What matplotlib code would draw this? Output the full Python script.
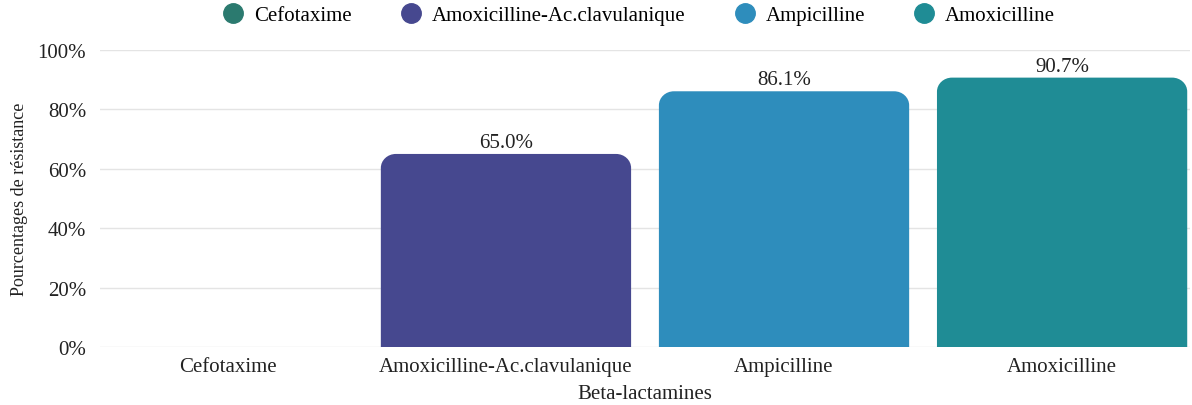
"""Resistance to beta-lactams, bar chart"""
import matplotlib
matplotlib.use("Agg")
import matplotlib.pyplot as plt
from matplotlib.path import Path
from matplotlib.patches import PathPatch
from matplotlib.lines import Line2D

# -----------------------------------------------------------------------------
# Data

categories = ["Cefotaxime", "Amoxicilline-Ac.clavulanique", "Ampicilline", "Amoxicilline"]
resistance = [0.0, 65.0, 86.1, 90.7]
colors = ["#2b7a6f", "#46488f", "#2e8dbc", "#1f8c95"]
yticks = [0, 20, 40, 60, 80, 100]

FS = 15
plt.rcParams["font.family"] = ["Liberation Serif", "DejaVu Serif"]
plt.rcParams["font.size"] = FS


def rounded_top(x0, y0, w, h, rx, ry):
    """Path of a bar whose two top corners are rounded."""
    if h <= 0:
        return None
    ry = min(ry, h)
    k = 0.5523
    verts = [
        (x0, y0),
        (x0 + w, y0),
        (x0 + w, y0 + h - ry),
        (x0 + w, y0 + h - ry + k * ry), (x0 + w - rx + k * rx, y0 + h), (x0 + w - rx, y0 + h),
        (x0 + rx, y0 + h),
        (x0 + rx - k * rx, y0 + h), (x0, y0 + h - ry + k * ry), (x0, y0 + h - ry),
        (x0, y0),
    ]
    codes = [Path.MOVETO, Path.LINETO, Path.LINETO,
             Path.CURVE4, Path.CURVE4, Path.CURVE4,
             Path.LINETO,
             Path.CURVE4, Path.CURVE4, Path.CURVE4,
             Path.CLOSEPOLY]
    return Path(verts, codes)


fig = plt.figure(figsize=(11.92, 4.06), dpi=100)
ax = fig.add_axes([100 / 1192, 1 - 348 / 406, 1090 / 1192, 297 / 406])

x = list(range(len(categories)))
bars = ax.bar(x, resistance, width=0.9, color=colors)
ax.set_xlim(-0.46, 3.46)
ax.set_ylim(0, 100)

# corner radius ~15 px expressed in data units on each axis
rx = 15 / (1090 / 3.92)
ry = 14 / (297 / 100)
for rect, c in zip(bars, colors):
    rect.set_visible(False)
    p = rounded_top(rect.get_x(), rect.get_y(), rect.get_width(), rect.get_height(), rx, ry)
    if p is not None:
        ax.add_patch(PathPatch(p, facecolor=c, edgecolor="none", zorder=3))

for xi, v in zip(x, resistance):
    if v > 0:
        ax.annotate(f"{v:.1f}%", (xi, v), xytext=(0, 1.5), textcoords="offset points",
                    ha="center", va="bottom", fontsize=FS, color="#222222")

ax.set_yticks(yticks)
ax.set_yticklabels([f"{t}%" for t in yticks])
ax.set_xticks(x)
ax.set_xticklabels(categories)
ax.tick_params(axis="both", length=0, colors="#222222", labelsize=FS)
ax.tick_params(axis="y", pad=10)
ax.tick_params(axis="x", pad=7)
ax.grid(axis="y", color="#e4e4e4", linewidth=1)
ax.set_axisbelow(True)
for s in ax.spines.values():
    s.set_visible(False)

ax.set_xlabel("Beta-lactamines", fontsize=FS, labelpad=6, color="#222222")
ax.set_ylabel("Pourcentages de résistance", fontsize=13, labelpad=7, color="#222222")

handles = [Line2D([], [], marker="o", linestyle="none", markersize=14,
                  markerfacecolor=c, markeredgecolor=c) for c in colors]
fig.legend(handles, categories, loc="center", bbox_to_anchor=(0.536, 1 - 16 / 406),
           ncol=4, frameon=False, fontsize=FS, handlelength=1.0,
           handletextpad=0.5, columnspacing=2.35)

fig.savefig("out.png", dpi=100)
